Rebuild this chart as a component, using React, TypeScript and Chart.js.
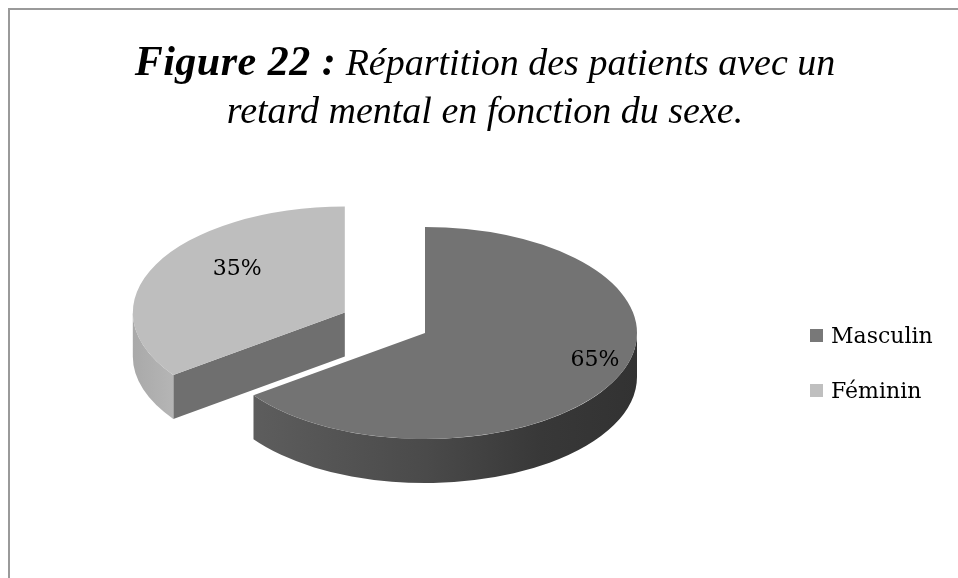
import { useEffect, useRef } from 'react';
import { Chart, registerables } from 'chart.js';

Chart.register(...registerables);

// ---- data ----
const categories = ['Masculin', 'Féminin'];
const percentages = [65, 35];

// ---- style ----
const topColors = ['#737373', '#bebebe'];
const legendColors = ['#787878', '#bfbfbf'];
const cutFaceColors = ['#6a6a6a', '#6f6f6f'];
const TILT = 0.5; // vertical squash of the pie (3D view)
const DEPTH = 44; // thickness of the pie in screen px
const EXPLODE = [0, 90]; // how far each slice is pulled out
const LABEL_RADIUS = [0.9, 0.57];
const LABEL_LIFT = -16;

const sideGradient = (ctx: CanvasRenderingContext2D, i: number, x0: number, x1: number) => {
  const g = ctx.createLinearGradient(Math.min(x0, x1), 0, Math.max(x0, x1), 0);
  if (i === 0) {
    g.addColorStop(0, '#5d5d5d');
    g.addColorStop(0.45, '#4a4a4a');
    g.addColorStop(0.75, '#383838');
    g.addColorStop(1, '#323232');
  } else {
    g.addColorStop(0, '#a9a9a9');
    g.addColorStop(1, '#b5b5b5');
  }
  return g;
};

const pie3d = {
  id: 'pie3d',
  afterDatasetUpdate(chart: any, args: any) {
    args.meta.data.forEach((el: any, i: number) => {
      const k = EXPLODE[i] || 0;
      if (!k) return;
      const mid = (el.startAngle + el.endAngle) / 2;
      el.x += Math.cos(mid) * k;
      el.y += Math.sin(mid) * k;
    });
  },
  beforeDatasetsDraw(chart: any) {
    const ctx: CanvasRenderingContext2D = chart.ctx;
    const area = chart.chartArea;
    const cy = (area.top + area.bottom) / 2;
    ctx.save();
    ctx.translate(0, cy);
    ctx.scale(1, TILT);
    ctx.translate(0, -cy);
    const D = DEPTH / TILT;
    const meta = chart.getDatasetMeta(0);
    const order = meta.data.map((_: any, i: number) => i).reverse();
    order.forEach((i: number) => {
      const el = meta.data[i];
      const { x, y, startAngle: a, endAngle: b, outerRadius: r } = el;
      const face = (t: number) => {
        const px = x + Math.cos(t) * r;
        const py = y + Math.sin(t) * r;
        ctx.beginPath();
        ctx.moveTo(x, y);
        ctx.lineTo(px, py);
        ctx.lineTo(px, py + D);
        ctx.lineTo(x, y + D);
        ctx.closePath();
        ctx.fillStyle = cutFaceColors[i];
        ctx.fill();
      };
      if (Math.cos(a) < -1e-6) face(a);
      if (Math.cos(b) > 1e-6) face(b);
      const a0 = Math.max(a, 0);
      const a1 = Math.min(b, Math.PI);
      if (a1 > a0) {
        ctx.beginPath();
        ctx.arc(x, y, r, a0, a1);
        ctx.arc(x, y + D, r, a1, a0, true);
        ctx.closePath();
        ctx.fillStyle = sideGradient(ctx, i, x + Math.cos(a0) * r, x + Math.cos(a1) * r);
        ctx.fill();
      }
    });
  },
  afterDatasetsDraw(chart: any) {
    const ctx: CanvasRenderingContext2D = chart.ctx;
    ctx.restore();
    const area = chart.chartArea;
    const cy = (area.top + area.bottom) / 2;
    const meta = chart.getDatasetMeta(0);
    ctx.save();
    ctx.font = '22px "DejaVu Serif"';
    ctx.fillStyle = '#000';
    ctx.textAlign = 'center';
    ctx.textBaseline = 'middle';
    meta.data.forEach((el: any, i: number) => {
      const mid = (el.startAngle + el.endAngle) / 2;
      const rr = el.outerRadius * LABEL_RADIUS[i];
      const px = el.x + Math.cos(mid) * rr;
      const py = cy + (el.y + Math.sin(mid) * rr - cy) * TILT + LABEL_LIFT;
      ctx.fillText(`${percentages[i]}%`, px, py);
    });
    ctx.restore();
  },
};

function PieChart() {
  const ref = useRef<HTMLCanvasElement>(null);
  useEffect(() => {
    if (!ref.current) return;
    const chart = new Chart(ref.current, {
      type: 'pie',
      data: {
        labels: categories,
        datasets: [
          {
            data: percentages,
            backgroundColor: topColors,
            borderWidth: 0,
          },
        ],
      },
      options: {
        animation: false,
        responsive: false,
        devicePixelRatio: 1,
        events: [],
        radius: 212,
        layout: { padding: { left: 0, right: 108, top: 88, bottom: 0 } },
        plugins: {
          legend: { display: false },
          tooltip: { enabled: false },
          title: { display: false },
        },
      } as any,
      plugins: [pie3d as any],
    });
    return () => chart.destroy();
  }, []);
  return (
    <canvas
      ref={ref}
      width={958}
      height={578}
      style={{ position: 'absolute', left: 0, top: 0, width: 958, height: 578 }}
    />
  );
}

export default function App() {
  return (
    <div
      style={{
        position: 'fixed',
        left: 0,
        top: 0,
        width: 958,
        height: 578,
        overflow: 'hidden',
        background: '#fff',
      }}
    >
      <div
        style={{
          position: 'absolute',
          left: 8,
          top: 8,
          width: 980,
          height: 600,
          borderTop: '2px solid #9a9a9a',
          borderLeft: '2px solid #9a9a9a',
        }}
      />
      <PieChart />
      <div
        style={{
          position: 'absolute',
          left: 0,
          top: 37,
          width: 970,
          textAlign: 'center',
          fontFamily: '"Liberation Serif", serif',
          fontStyle: 'italic',
          fontSize: 38,
          lineHeight: '48px',
          color: '#000',
          whiteSpace: 'nowrap',
        }}
      >
        <span style={{ fontWeight: 'bold', fontSize: 42, letterSpacing: 0.5 }}>Figure 22 :</span>{' '}
        Répartition des patients avec un
        <br />
        retard mental en fonction du sexe.
      </div>
      {categories.map((c, i) => (
        <div key={c}>
          <div
            style={{
              position: 'absolute',
              left: 810,
              top: 329 + i * 55,
              width: 13,
              height: 13,
              background: legendColors[i],
            }}
          />
          <div
            style={{
              position: 'absolute',
              left: 831,
              top: 323 + i * 55,
              fontFamily: '"DejaVu Serif", serif',
              fontSize: 22,
              lineHeight: '26px',
              color: '#000',
              whiteSpace: 'nowrap',
            }}
          >
            {c}
          </div>
        </div>
      ))}
    </div>
  );
}
